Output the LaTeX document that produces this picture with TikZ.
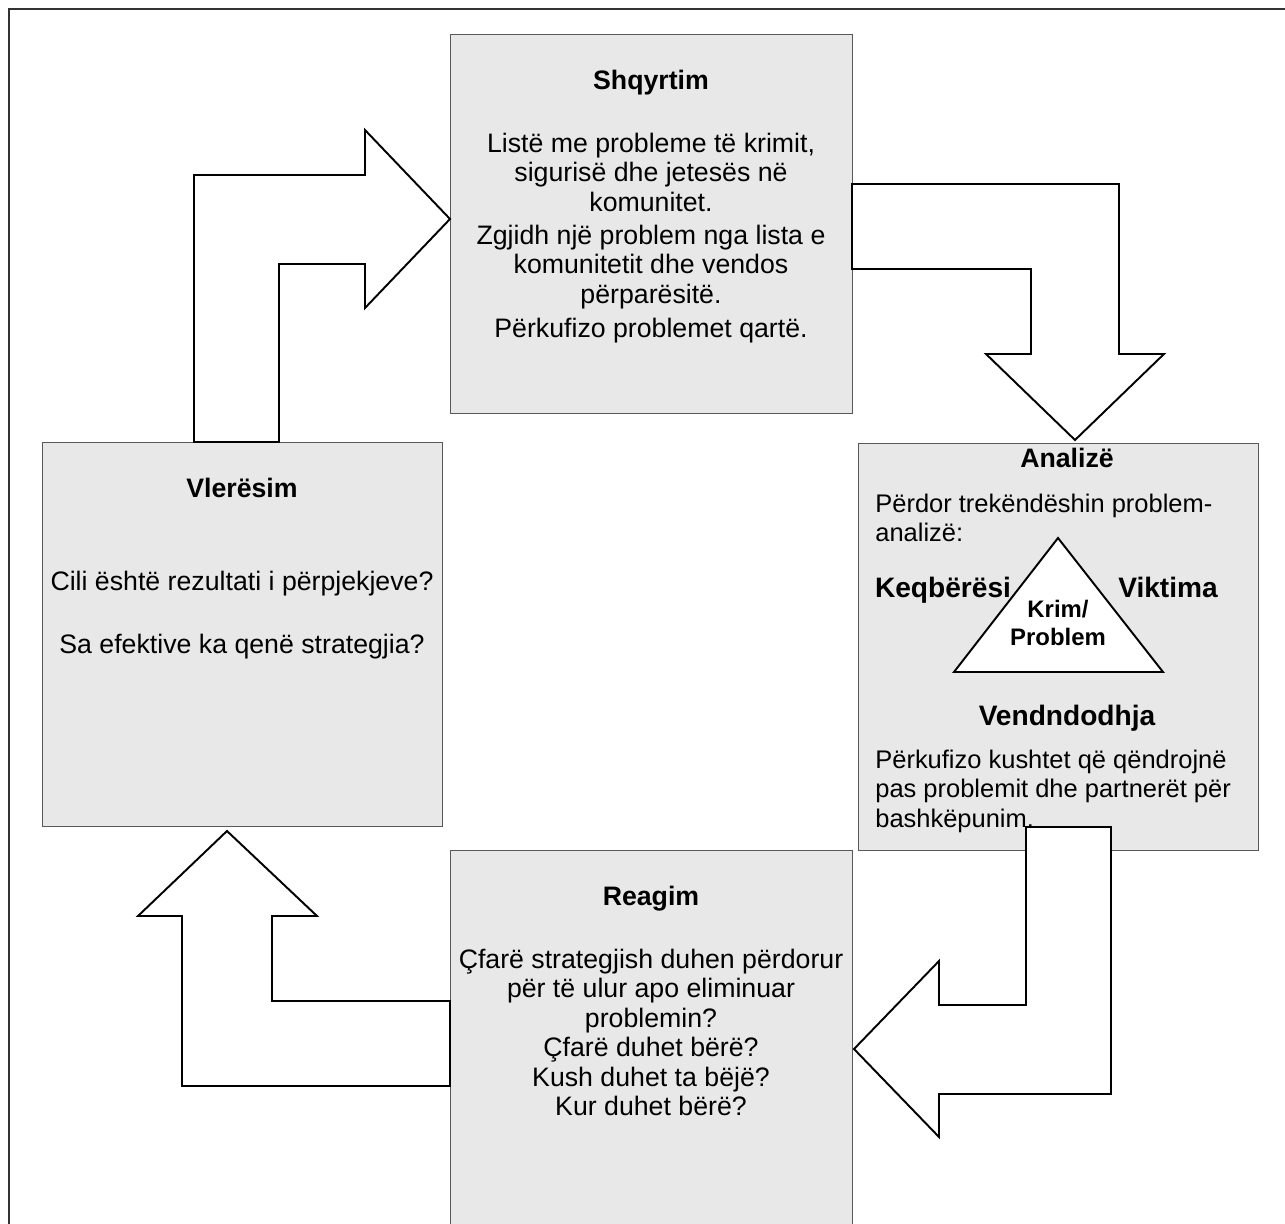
\documentclass[tikz,border=0pt]{standalone}
\usepackage{fontspec}
\setmainfont{Liberation Sans}
\usetikzlibrary{positioning}

\definecolor{boxgray}{HTML}{E8E8E8}
\definecolor{framegray}{HTML}{333333}

\tikzset{
  stagebox/.style={draw=black!65, line width=0.5pt, fill=boxgray, rectangle, inner sep=0pt},
  stagetext/.style={align=center, inner sep=0pt, font=\fontsize{15.2}{16.8}\selectfont},
  anatext/.style={align=left, inner sep=0pt, anchor=north west, font=\fontsize{14.5}{16.8}\selectfont},
  blockarrow/.style={draw=black, fill=white, line width=1.1pt, line join=miter},
  bigword/.style={inner sep=0pt, anchor=base, font=\fontsize{16}{18}\selectfont\bfseries},
}

\begin{document}
\begin{tikzpicture}[x=0.02cm, y=-0.02cm]
  \useasboundingbox (0,0) rectangle (1285,1224);
  \clip (0,0) rectangle (1285,1224);
  \draw[framegray, line width=1.6pt] (9,9) rectangle (1320,1260);

  % the four stages
  \node[stagebox, minimum width=8.04cm, minimum height=7.58cm] (shqyrtim) at (651,223.5) {};
  \node[stagebox, minimum width=8cm, minimum height=7.68cm] (vleresim) at (242,634) {};
  \node[stagebox, minimum width=8cm, minimum height=8.14cm] (analize) at (1058,646.5) {};
  \node[stagebox, minimum width=8.04cm, minimum height=8cm] (reagim) at (651,1050) {};

  % block arrows between the stages
  \draw[blockarrow] (194,442) -- (194,175) -- (365,175) -- (365,130) -- (450,219)
    -- (365,308) -- (365,264) -- (279,264) -- (279,442) -- cycle;
  \draw[blockarrow] (852,184) -- (1119,184) -- (1119,354) -- (1164,354) -- (1075,440)
    -- (986,354) -- (1031,354) -- (1031,269) -- (852,269) -- cycle;
  \draw[blockarrow] (1026,827) -- (1111,827) -- (1111,1094) -- (939,1094) -- (939,1137)
    -- (854,1049) -- (939,961) -- (939,1005) -- (1026,1005) -- cycle;
  \draw[blockarrow] (450,1001) -- (272,1001) -- (272,916) -- (317,916) -- (227,831)
    -- (138,916) -- (182,916) -- (182,1086) -- (450,1086) -- cycle;

  % texts
  \node[stagetext, anchor=north] (shqtext) at (651,69.5) {{\bfseries Shqyrtim}\\[0.67cm]
    Listë me probleme të krimit,\\ sigurisë dhe jetesës në\\ komunitet.\\[0.07cm]
    Zgjidh një problem nga lista e\\ komunitetit dhe vendos\\ përparësitë.\\[0.09cm]
    Përkufizo problemet qartë.};
  \node[stagetext, anchor=north] (vletext) at (242,477.5) {{\bfseries Vlerësim}\\[1.27cm]
    Cili është rezultati i përpjekjeve?\\[0.67cm]
    Sa efektive ka qenë strategjia?};
  \node[stagetext, anchor=north] (reatext) at (651,885.5) {{\bfseries Reagim}\\[0.67cm]
    Çfarë strategjish duhen përdorur\\ për të ulur apo eliminuar\\ problemin?\\
    Çfarë duhet bërë?\\ Kush duhet ta bëjë?\\ Kur duhet bërë?};

  % analysis triangle
  \draw[fill=white, line width=1.1pt] (1058,538) coordinate (apex) -- (1163,672) coordinate (rightc)
    -- (954,672) coordinate (leftc) -- cycle;
  \node[stagetext, anchor=base] (anatitle) at (1067,467) {\bfseries Analizë};
  \node[anatext] (anatop) at (875,493.4) {Përdor trekëndëshin problem-\\ analizë:};
  \node[bigword] (keqberesi) at (943,597) {Keqbërësi};
  \node[bigword] (viktima) at (1168,597) {Viktima};
  \node[stagetext, anchor=north, font=\fontsize{13.6}{15.9}\selectfont\bfseries] (krim) at (1058,599.5)
    {Krim/\\ Problem};
  \node[bigword] (vendndodhja) at (1067,725) {Vendndodhja};
  \node[anatext] (anabottom) at (875,749.4)
    {Përkufizo kushtet që qëndrojnë\\ pas problemit dhe partnerët për\\ bashkëpunim.};
\end{tikzpicture}
\end{document}
